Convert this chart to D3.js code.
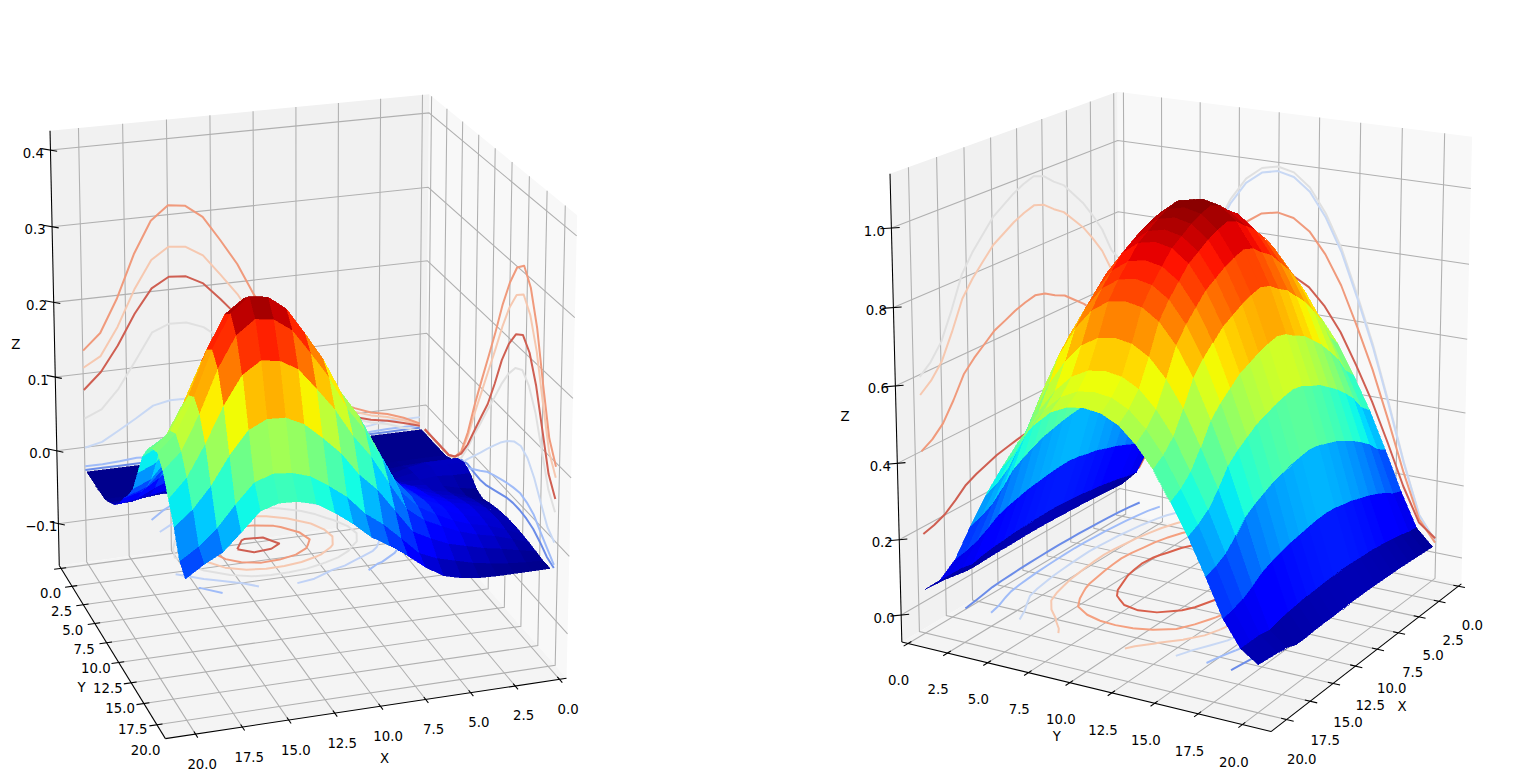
<!DOCTYPE html>
<html><head><meta charset="utf-8">
<script src="https://cdn.jsdelivr.net/npm/d3@7"></script>
<style>html,body{margin:0;padding:0;background:#fff}svg{display:block}text{font-family:"DejaVu Sans";font-size:13.3px;fill:#000}</style>
</head><body><svg id="c" width="1524" height="774"></svg>
<script>
const gridX=[0,1,2,3,4,5,6,7,8,9,10,11,12,13,14,15,16,17,18,19,20];
const gridY=[0,1,2,3,4,5,6,7,8,9,10,11,12,13,14,15,16,17,18,19,20];
const planeTicks=[0,2.5,5,7.5,10,12.5,15,17.5,20];
const zTicksLeft=[-0.1,0,0.1,0.2,0.3,0.4];
const zTicksRight=[0,0.2,0.4,0.6,0.8,1.0];
const wallLevels=[2.5,5,7.5,10,12.5,15,17.5];
const wallColors=["#6b8ce8","#a0bcf8","#c8d8f4","#e0e0e0","#f6c8b0","#f09a7c","#cf5f52"];
const floorLevelsLeft=[0.05,0.1,0.15,0.2,0.25,0.3];
const floorColorsLeft=["#a0bcf8","#c0d2f6","#e0e0e0","#f6c8b0","#f09a7c","#cf5f52"];
const floorLevelsRight=[0.15,0.3,0.45,0.59,0.73,0.87];
const floorColorsRight=["#6b8ce8","#a0bcf8","#c8d8f4","#f6c8b0","#f4a080","#d8604c"];
const zLeft=[
[-.03,-.03,-.03,-.03,-.03,-.026,-.016,-.012,-.018,-.03,-.034,-.03,-.027,-.025,-.024,-.024,-.025,-.026,-.028,-.03,-.03],
[-.03,-.03,-.03,-.03,-.03,-.026,-.016,-.012,-.018,-.026,-.027,-.022,-.018,-.015,-.013,-.013,-.015,-.018,-.023,-.029,-.03],
[-.03,-.03,-.03,-.03,-.03,-.026,-.016,-.012,-.016,-.02,-.019,-.015,-.011,-.007,-.005,-.005,-.007,-.011,-.018,-.027,-.03],
[-.03,-.03,-.03,-.03,-.03,-.027,-.02,-.018,-.018,-.016,-.014,-.01,-.006,-.002,0,0,-.002,-.006,-.014,-.024,-.03],
[-.03,-.03,-.03,-.03,-.03,-.029,-.026,-.022,-.018,-.013,-.006,-.002,.002,.006,.008,.009,.006,.001,-.008,-.02,-.029],
[-.03,-.03,-.03,-.03,-.03,-.029,-.026,-.02,-.013,-.006,.002,.007,.011,.015,.018,.02,.017,.011,-.002,-.014,-.026],
[-.03,-.03,-.03,-.03,-.03,-.029,-.026,-.02,-.01,-.001,.009,.016,.022,.028,.032,.034,.03,.022,.008,-.008,-.02],
[-.03,-.03,-.03,-.03,-.03,-.028,-.024,-.012,-.002,.01,.021,.032,.042,.051,.058,.06,.053,.04,.02,.002,-.006],
[-.03,-.03,-.03,-.03,-.03,-.028,-.021,-.005,.012,.027,.044,.06,.076,.089,.099,.103,.096,.076,.05,.024,.012],
[-.03,-.03,-.03,-.03,-.03,-.027,-.018,.002,.024,.045,.068,.089,.11,.129,.142,.147,.137,.113,.08,.045,.028],
[-.03,-.03,-.03,-.03,-.03,-.026,-.016,.007,.034,.059,.085,.11,.136,.158,.174,.18,.168,.142,.102,.062,.042],
[-.03,-.03,-.03,-.03,-.03,-.025,-.013,.014,.047,.077,.109,.139,.171,.198,.218,.225,.21,.178,.132,.086,.062],
[-.03,-.03,-.03,-.03,-.03,-.024,-.01,.02,.057,.092,.127,.162,.198,.229,.252,.26,.243,.207,.154,.103,.079],
[-.03,-.03,-.03,-.03,-.03,-.024,-.008,.025,.068,.106,.145,.183,.224,.259,.284,.293,.274,.234,.174,.118,.093],
[-.03,-.03,-.03,-.03,-.03,-.023,-.007,.028,.073,.113,.154,.195,.237,.274,.3,.31,.29,.247,.185,.125,.099],
[-.03,-.03,-.03,-.03,-.03,-.023,-.007,.028,.074,.115,.155,.196,.24,.276,.303,.313,.293,.25,.186,.127,.1],
[-.03,-.03,-.03,-.03,-.03,-.024,-.008,.025,.068,.107,.146,.185,.226,.26,.286,.295,.276,.235,.175,.119,.093],
[-.03,-.03,-.03,-.03,-.03,-.022,-.008,.016,.048,.08,.11,.148,.19,.222,.245,.253,.237,.2,.147,.095,.07],
[-.03,-.03,-.03,-.03,-.03,-.024,-.012,.007,.03,.052,.075,.108,.145,.172,.19,.197,.184,.155,.112,.068,.048],
[-.03,-.03,-.03,-.03,-.03,-.025,-.017,-.004,.015,.03,.05,.08,.112,.132,.148,.153,.14,.116,.085,.048,.036],
[-.03,-.03,-.03,-.03,-.03,-.025,-.018,-.008,.009,.022,.04,.07,.1,.118,.128,.132,.118,.092,.066,.033,.021]];
const zRight=[
[.023,.067,.161,.268,.369,.456,.536,.596,.64,.663,.67,.663,.64,.596,.536,.456,.369,.268,.161,.067,.023],
[.025,.071,.17,.284,.391,.483,.568,.632,.678,.703,.71,.703,.678,.632,.568,.483,.391,.284,.17,.071,.025],
[.027,.078,.187,.312,.429,.53,.624,.694,.745,.772,.78,.772,.745,.694,.624,.53,.429,.312,.187,.078,.027],
[.029,.083,.199,.332,.457,.564,.664,.739,.793,.822,.83,.822,.793,.739,.664,.564,.457,.332,.199,.083,.029],
[.031,.088,.21,.35,.481,.595,.7,.779,.836,.866,.875,.866,.836,.779,.7,.595,.481,.35,.21,.088,.031],
[.032,.091,.218,.364,.501,.619,.728,.81,.869,.901,.91,.901,.869,.81,.728,.619,.501,.364,.218,.091,.032],
[.033,.095,.227,.378,.52,.643,.756,.841,.902,.936,.945,.936,.902,.841,.756,.643,.52,.378,.227,.095,.033],
[.034,.097,.232,.386,.531,.656,.772,.859,.922,.955,.965,.955,.922,.859,.772,.656,.531,.386,.232,.097,.034],
[.035,.099,.238,.396,.545,.673,.792,.881,.945,.98,.99,.98,.945,.881,.792,.673,.545,.396,.238,.099,.035],
[.035,.1,.24,.4,.55,.68,.8,.89,.955,.99,1,.99,.955,.89,.8,.68,.55,.4,.24,.1,.035],
[.035,.099,.238,.396,.545,.673,.792,.881,.945,.98,.99,.98,.945,.881,.792,.673,.545,.396,.238,.099,.035],
[.034,.098,.234,.39,.536,.663,.78,.868,.931,.965,.975,.965,.931,.868,.78,.663,.536,.39,.234,.098,.034],
[.033,.096,.229,.382,.525,.649,.764,.85,.912,.945,.955,.945,.912,.85,.764,.649,.525,.382,.229,.096,.033],
[.033,.094,.224,.374,.514,.636,.748,.832,.893,.926,.935,.926,.893,.832,.748,.636,.514,.374,.224,.094,.033],
[.032,.09,.216,.36,.495,.612,.72,.801,.86,.891,.9,.891,.86,.801,.72,.612,.495,.36,.216,.09,.032],
[.03,.087,.208,.346,.476,.588,.692,.77,.826,.856,.865,.856,.826,.77,.692,.588,.476,.346,.208,.087,.03],
[.03,.082,.197,.328,.451,.558,.656,.73,.783,.812,.82,.812,.783,.73,.656,.558,.451,.328,.197,.082,.03],
[.035,.074,.178,.296,.407,.503,.592,.659,.707,.733,.74,.733,.707,.659,.592,.503,.407,.296,.178,.074,.04],
[.04,.08,.161,.268,.369,.456,.536,.596,.64,.663,.67,.663,.64,.596,.536,.456,.369,.268,.161,.08,.044],
[.042,.08,.151,.252,.347,.428,.504,.561,.602,.624,.63,.624,.602,.561,.504,.428,.347,.252,.151,.08,.047],
[.045,.08,.145,.242,.333,.411,.484,.538,.578,.599,.605,.599,.578,.538,.484,.411,.333,.242,.145,.08,.05]];

const jetR=d3.scaleLinear().domain([0,.35,.66,.89,1]).range([0,0,1,1,.5]);
const jetG=d3.scaleLinear().domain([0,.125,.375,.64,.91,1]).range([0,0,1,1,0,0]);
const jetB=d3.scaleLinear().domain([0,.11,.34,.65,1]).range([.5,1,1,0,0]);
const jet=t=>d3.rgb(255*jetR(t),255*jetG(t),255*jetB(t)).formatHex();
const fmt=d3.format(".1f");
const svg=d3.select("#c");

function drawChart(c){
  const g=svg.append("g");
  const az=c.azim*Math.PI/180, el=c.elev*Math.PI/180;
  const sx=d3.scaleLinear().domain(c.xlim).range([-.5,.5]);
  const sy=d3.scaleLinear().domain(c.ylim).range([-.5,.5]);
  const sz=d3.scaleLinear().domain(c.zlim).range([-.5,.5]);
  const depth=(x,y,z)=>{const X=sx(x),Y=sy(y),Z=sz(z);const h=Math.cos(az)*X+Math.sin(az)*Y;return Math.cos(el)*h+Math.sin(el)*Z;};
  const P=(x,y,z)=>{const X=sx(x),Y=sy(y),Z=sz(z);
    const h=Math.cos(az)*X+Math.sin(az)*Y;
    const u=-Math.sin(az)*X+Math.cos(az)*Y;
    const v=-Math.sin(el)*h+Math.cos(el)*Z;
    const w=c.dist-(Math.cos(el)*h+Math.sin(el)*Z);
    return [c.cx+c.kx*u/w,c.cy-c.ky*v/w];};
  const [x0,x1]=c.xlim,[y0,y1]=c.ylim,[z0,z1]=c.zlim;
  const line=d3.line();
  const poly=pts=>"M"+pts.map(p=>p.join(",")).join("L")+"Z";
  g.append("path").attr("d",poly([P(x0,y0,z0),P(x0,y1,z0),P(x0,y1,z1),P(x0,y0,z1)])).attr("fill","#f8f8f8");
  g.append("path").attr("d",poly([P(x0,y0,z0),P(x1,y0,z0),P(x1,y0,z1),P(x0,y0,z1)])).attr("fill","#f1f1f1");
  g.append("path").attr("d",poly([P(x0,y0,z0),P(x1,y0,z0),P(x1,y1,z0),P(x0,y1,z0)])).attr("fill","#f4f4f4");
  const gl=pts=>g.append("path").attr("d",line(pts)).attr("fill","none").attr("stroke","#b0b0b0").attr("stroke-width",1.07);
  planeTicks.forEach(t=>{
    gl([P(t,y1,z0),P(t,y0,z0),P(t,y0,z1)]);
    gl([P(x1,t,z0),P(x0,t,z0),P(x0,t,z1)]);
  });
  c.zticks.forEach(t=>gl([P(x1,y0,t),P(x0,y0,t),P(x0,y1,t)]));
  const al=pts=>g.append("path").attr("d",line(pts)).attr("fill","none").attr("stroke","#000").attr("stroke-width",1.07);
  al([P(x0,y1,z0),P(x1,y1,z0)]);
  al([P(x1,y0,z0),P(x1,y1,z0)]);
  al([P(x1,y0,z0),P(x1,y0,z1)]);
  const anchor=(sel,p,t)=>sel.append("text").attr("x",p[0]).attr("y",p[1]).attr("text-anchor","middle").attr("dominant-baseline","central").text(t);
  planeTicks.forEach(t=>{
    al([P(t,y1-.3,z0),P(t,y1+.4,z0)]);
    al([P(x1-.3,t,z0),P(x1+.4,t,z0)]);
    const a=P(t,y1+c.mx,z0); anchor(g,[a[0],a[1]+c.zpx],fmt(t));
    const b=P(x1+c.my,t,z0); anchor(g,[b[0],b[1]+c.zpy],fmt(t));
  });
  c.zticks.forEach(t=>{
    al([P(x1-.3,y0+.3,t),P(x1+.4,y0-.4,t)]);
    const a=P(x1,y0,t); anchor(g,[a[0]-17,a[1]+3],fmt(t).replace("-","\u2212"));
  });
  const ml=P((x0+x1)/2,y1,z0), my=P(x1,(y0+y1)/2,z0), mz=P(x1,y0,(z0+z1)/2);
  anchor(g,[ml[0]+c.xl[0],ml[1]+c.xl[1]],"X");
  anchor(g,[my[0]+c.yl[0],my[1]+c.yl[1]],"Y");
  anchor(g,[mz[0]+c.zl[0],mz[1]+c.zl[1]],"Z");
  const cl=(pts,col)=>g.append("path").attr("d",line(pts)).attr("fill","none").attr("stroke",col).attr("stroke-width",2).attr("stroke-linejoin","round");
  const n=gridX.length,m=gridY.length;
  const vals=[];for(let j=0;j<m;j++)for(let i=0;i<n;i++)vals.push(c.z[i][j]);
  const gx=d3.scaleLinear().domain([.5,n-.5]).range([gridX[0],gridX[n-1]]);
  const gy=d3.scaleLinear().domain([.5,m-.5]).range([gridY[0],gridY[m-1]]);
  c.floorLevels.forEach((lv,k)=>{
    const shape=d3.contours().size([n,m]).thresholds([lv])(vals)[0];
    shape.coordinates.forEach(poly2=>poly2.forEach(ring=>{
      let seg=[];
      const flush=()=>{if(seg.length>1)cl(seg,c.floorColors[k]);seg=[];};
      ring.forEach(pt=>{
        if(pt[0]<=.5||pt[0]>=n-.5||pt[1]<=.5||pt[1]>=m-.5)flush();
        else seg.push(P(gx(pt[0]),gy(pt[1]),c.floorZ));
      });
      flush();
    }));
  });
  const lerpIdx=(arr,lv)=>{const f=Math.min(d3.bisectRight(arr,lv)-1,arr.length-2);return [f,(lv-arr[f])/(arr[f+1]-arr[f])];};
  c.wallYOrder.forEach(k=>{const [f,t]=lerpIdx(gridY,wallLevels[k]);
    cl(gridX.map((x,i)=>P(x,c.wallY,d3.interpolateNumber(c.z[i][f],c.z[i][f+1])(t))),wallColors[k]);});
  c.wallXOrder.forEach(k=>{const [f,t]=lerpIdx(gridX,wallLevels[k]);
    cl(gridY.map((y,j)=>P(c.wallX,y,d3.interpolateNumber(c.z[f][j],c.z[f+1][j])(t))),wallColors[k]);});
  const flat=c.z.flat();
  const col=d3.scaleLinear().domain(d3.extent(flat)).range([0,1]);
  const quads=[];
  for(let i=0;i<n-1;i++)for(let j=0;j<m-1;j++){
    const cs=[[i,j],[i+1,j],[i+1,j+1],[i,j+1]];
    const zs=cs.map(([a,b])=>c.z[a][b]);
    const xs=cs.map(([a])=>gridX[a]), ys=cs.map(([,b])=>gridY[b]);
    quads.push({d:d3.mean(cs,(q,k)=>depth(xs[k],ys[k],zs[k])),
      pts:cs.map((q,k)=>P(xs[k],ys[k],zs[k])),col:jet(col(d3.mean(zs)))});
  }
  quads.sort((a,b)=>a.d-b.d);
  g.append("g").attr("shape-rendering","crispEdges").selectAll("path").data(quads).join("path")
    .attr("d",q=>poly(q.pts)).attr("fill",q=>q.col).attr("stroke",q=>q.col).attr("stroke-width",.6);
}
drawChart({z:zLeft,azim:72,elev:19,dist:8.5,kx:3483,ky:4030,cx:304,cy:400,
  xlim:[-.4,21.6],ylim:[-.4,21.6],zlim:[-.158,.425],zticks:zTicksLeft,
  mx:1.2,zpx:20,my:.6,zpy:24,xl:[15,51],yl:[-28,40],zl:[-39,-8],floorZ:-.004,wallX:-.2,wallY:-.3,
  floorLevels:floorLevelsLeft,floorColors:floorColorsLeft,wallYOrder:[0,1,2,3,4,5,6],wallXOrder:[0,1,2,3,4,5,6]});
drawChart({z:zRight,azim:30,elev:16,dist:7,kx:2922,ky:3329,cx:1188.5,cy:388,
  xlim:[-.4,21.6],ylim:[-.4,21.6],zlim:[-.072,1.135],zticks:zTicksRight,
  mx:.85,zpx:36,my:.85,zpy:31,xl:[30,53],yl:[-23,51],zl:[-51,4],floorZ:0,wallX:-.3,wallY:0,
  floorLevels:floorLevelsRight,floorColors:floorColorsRight,wallYOrder:[3,4,5,6],wallXOrder:[3,2,5,6]});
</script></body></html>
